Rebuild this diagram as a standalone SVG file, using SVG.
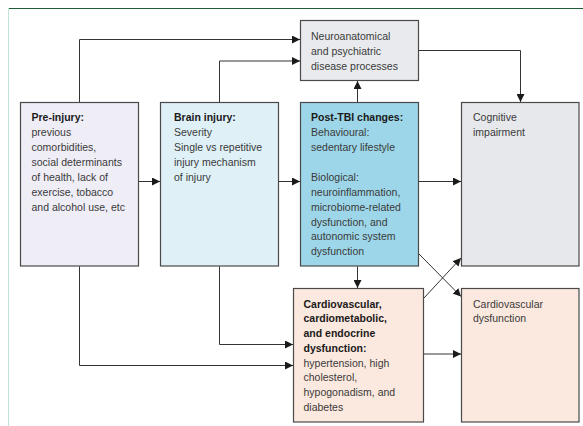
<svg xmlns="http://www.w3.org/2000/svg" width="583" height="426" viewBox="0 0 583 426">
<defs>
<marker id="ah" viewBox="0 0 10 10" refX="10" refY="5" markerWidth="8" markerHeight="8" markerUnits="userSpaceOnUse" orient="auto">
<path d="M0,0 L10,5 L0,10 Z" fill="#1a1a1a"/>
</marker>
<style>
.box{stroke:#4a4a4a;stroke-width:1.2}
.t{font-family:"Liberation Sans",Arial,sans-serif;font-size:10.5px;fill:#3a3a3a}
.b{font-weight:bold;fill:#1a1a1a}
.c{fill:none;stroke:#333;stroke-width:1;marker-end:url(#ah)}
</style>
</defs>
<rect width="583" height="426" fill="#fff"/>
<line x1="8" y1="8.5" x2="583" y2="8.5" stroke="#1f5a3a" stroke-width="1"/>
<line x1="8.5" y1="8" x2="8.5" y2="426" stroke="#bfe3d6" stroke-width="1"/>

<g id="pre-injury">
<rect class="box" x="20.5" y="102.5" width="118" height="163.5" fill="#efedf6"/>
<text class="t"><tspan class="b" x="31.5" y="121">Pre-injury:</tspan><tspan x="31.5" y="136">previous</tspan><tspan x="31.5" y="151">comorbidities,</tspan><tspan x="31.5" y="166">social determinants</tspan><tspan x="31.5" y="181">of health, lack of</tspan><tspan x="31.5" y="196">exercise, tobacco</tspan><tspan x="31.5" y="210.5">and alcohol use, etc</tspan></text>
</g>

<g id="brain-injury">
<rect class="box" x="160.5" y="102.5" width="118" height="163.5" fill="#dff0f7"/>
<text class="t"><tspan class="b" x="174" y="121">Brain injury:</tspan><tspan x="174" y="136">Severity</tspan><tspan x="174" y="151">Single vs repetitive</tspan><tspan x="174" y="166">injury mechanism</tspan><tspan x="174" y="181">of injury</tspan></text>
</g>

<g id="neuro">
<rect class="box" x="300.5" y="20.5" width="118" height="60" fill="#e8eaed"/>
<text class="t"><tspan x="311" y="40">Neuroanatomical</tspan><tspan x="311" y="55">and psychiatric</tspan><tspan x="311" y="70">disease processes</tspan></text>
</g>

<g id="post-tbi">
<rect class="box" x="300.5" y="102.5" width="118" height="163.5" fill="#9dd6e8"/>
<text class="t"><tspan class="b" x="311" y="121">Post-TBI changes:</tspan><tspan x="311" y="136">Behavioural:</tspan><tspan x="311" y="151">sedentary lifestyle</tspan><tspan x="311" y="181">Biological:</tspan><tspan x="311" y="196">neuroinflammation,</tspan><tspan x="311" y="211">microbiome-related</tspan><tspan x="311" y="225.5">dysfunction, and</tspan><tspan x="311" y="240">autonomic system</tspan><tspan x="311" y="255">dysfunction</tspan></text>
</g>

<g id="cognitive">
<rect class="box" x="461.5" y="102.5" width="117.5" height="163.5" fill="#e6e8ec"/>
<text class="t"><tspan x="473" y="121">Cognitive</tspan><tspan x="473" y="136">impairment</tspan></text>
</g>

<g id="cardiometabolic">
<rect class="box" x="293.5" y="288.5" width="130" height="133.5" fill="#fbe8de"/>
<text class="t"><tspan class="b" x="303.5" y="307.5">Cardiovascular,</tspan><tspan class="b" x="303.5" y="322.3">cardiometabolic,</tspan><tspan class="b" x="303.5" y="337">and endocrine</tspan><tspan class="b" x="303.5" y="351.8">dysfunction:</tspan><tspan x="303.5" y="366.5">hypertension, high</tspan><tspan x="303.5" y="381.3">cholesterol,</tspan><tspan x="303.5" y="396">hypogonadism, and</tspan><tspan x="303.5" y="410.8">diabetes</tspan></text>
</g>

<g id="cv-dysfunction">
<rect class="box" x="461.5" y="288.5" width="117.5" height="133.5" fill="#fbe8de"/>
<text class="t"><tspan x="473" y="307.5">Cardiovascular</tspan><tspan x="473" y="322.3">dysfunction</tspan></text>
</g>

<g id="connectors">
<path class="c" d="M79.5,102 V39.5 H300"/>
<path class="c" d="M219.5,102 V61 H300"/>
<path class="c" d="M139,181.5 H160"/>
<path class="c" d="M279,181.5 H300"/>
<path class="c" d="M357.5,102 V81"/>
<path class="c" d="M419,50.5 H520.5 V102"/>
<path class="c" d="M419,181.5 H461"/>
<path class="c" d="M357.5,266.5 V288"/>
<path class="c" d="M419,254 L461,296.5"/>
<path class="c" d="M424,298 L461,258"/>
<path class="c" d="M424,354 H461"/>
<path class="c" d="M219.5,266.5 V344.5 H293"/>
<path class="c" d="M79.5,266.5 V365.5 H293"/>
</g>
</svg>
